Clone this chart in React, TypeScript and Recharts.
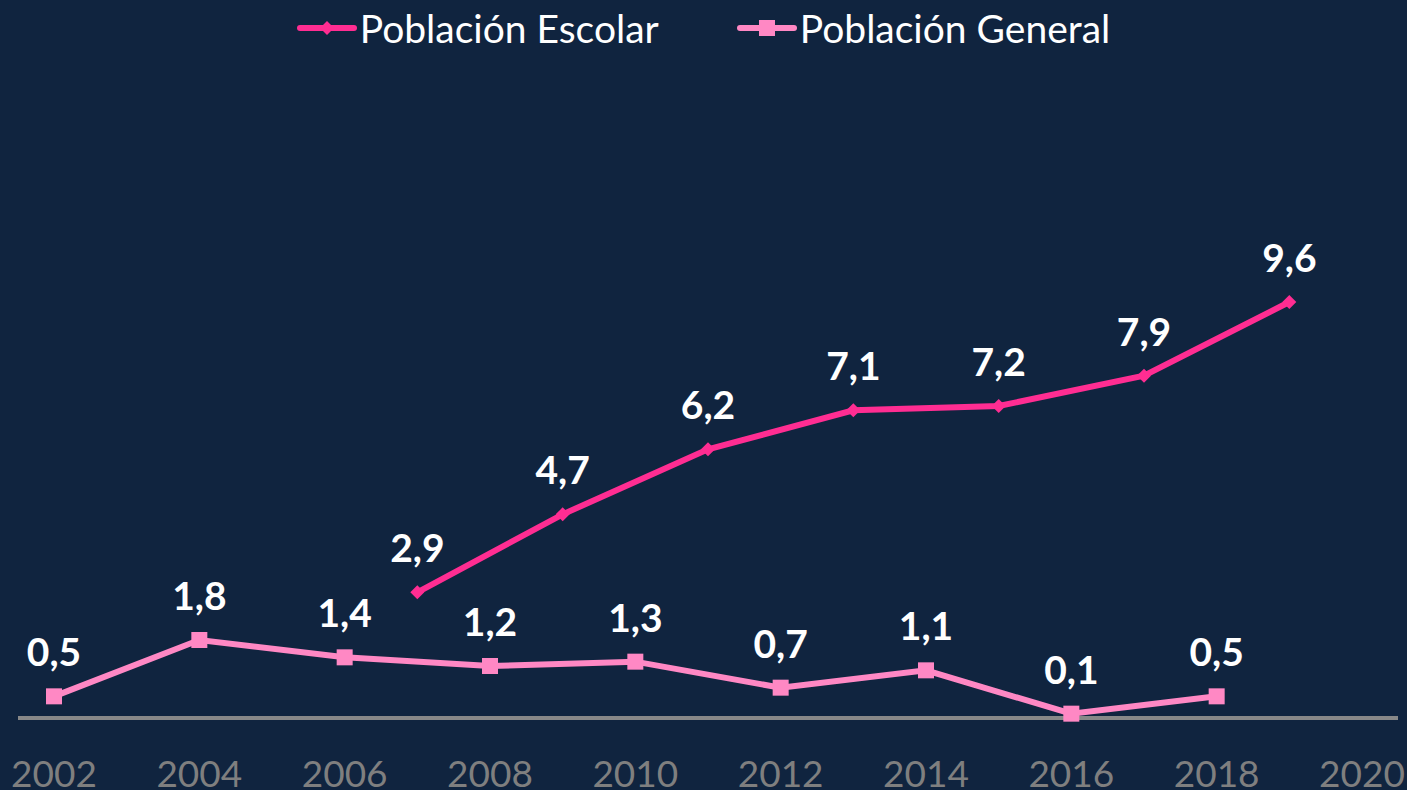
import React from 'react';
import { LineChart, Line, XAxis, YAxis, Legend, LabelList } from 'recharts';

const years = ['2002','2003','2004','2005','2006','2007','2008','2009','2010','2011','2012','2013','2014','2015','2016','2017','2018','2019','2020'];
const escolar: (number | null)[] = [null, null, null, null, null, 2.9, null, 4.7, null, 6.2, null, 7.1, null, 7.2, null, 7.9, null, 9.6, null];
const general: (number | null)[] = [0.5, null, 1.8, null, 1.4, null, 1.2, null, 1.3, null, 0.7, null, 1.1, null, 0.1, null, 0.5, null, null];
const seriesNames = ['Población Escolar', 'Población General'];

const data = years.map((y, i) => ({ year: y, escolar: escolar[i], general: general[i] }));

const BG = '#10243f';
const C1 = '#ff2d92';
const C2 = '#ff88c4';
const FONT = 'Lato, "Open Sans", sans-serif';

const fmt = (v: any) => (v == null ? '' : String(v).replace('.', ','));

const Diamond = (props: any) => {
  const { cx, cy, value, index } = props;
  if (value == null || cx == null) return <g key={index} />;
  const r = 7;
  return <polygon key={index} points={`${cx},${cy - r} ${cx + r},${cy} ${cx},${cy + r} ${cx - r},${cy}`} fill={C1} />;
};
const Square = (props: any) => {
  const { cx, cy, value, index } = props;
  if (value == null || cx == null) return <g key={index} />;
  const s = 16;
  return <rect key={index} x={cx - s / 2} y={cy - s / 2} width={s} height={s} fill={C2} />;
};

const renderLegend = () => (
  <div style={{ height: 198, width: 1407, display: 'flex', justifyContent: 'center', alignItems: 'flex-start', fontFamily: FONT }}>
    {seriesNames.map((n, i) => (
      <div key={n} style={{ display: 'flex', alignItems: 'center', marginLeft: i === 0 ? 0 : 78, height: 56 }}>
        <svg width={60} height={20} style={{ marginRight: 3 }}>
          <line x1={3} y1={10} x2={57} y2={10} stroke={i === 0 ? C1 : C2} strokeWidth={6} strokeLinecap="round" />
          {i === 0 ? (
            <polygon points="30,3 37,10 30,17 23,10" fill={C1} />
          ) : (
            <rect x={22} y={2} width={16} height={16} fill={C2} />
          )}
        </svg>
        <span style={{ color: '#ffffff', fontSize: 39, lineHeight: '56px' }}>{n}</span>
      </div>
    ))}
  </div>
);

export default function App() {
  return (
    <div style={{ position: 'absolute', left: 0, top: 0, width: 1407, height: 790, background: BG, overflow: 'hidden' }}>
      <LineChart width={1407} height={800} data={data} margin={{ top: 0, right: 9, bottom: 0, left: 18 }}>
        <Legend verticalAlign="top" align="center" content={renderLegend} wrapperStyle={{ top: 0, left: 0, width: 1407 }} />
        <XAxis
          dataKey="year"
          interval={1}
          padding={{ left: 36, right: 36 }}
          axisLine={{ stroke: '#888888', strokeWidth: 4 }}
          tickLine={false}
          tickSize={0}
          tickMargin={43}
          height={82}
          tick={{ fill: '#7f7f7f', fontSize: 37, fontFamily: FONT }}
        />
        <YAxis hide domain={[0, 12]} />
        <Line
          dataKey="general"
          stroke={C2}
          strokeWidth={6}
          connectNulls
          dot={<Square />}
          activeDot={false}
          isAnimationActive={false}
        >
          <LabelList dataKey="general" position="top" offset={30} formatter={fmt} fill="#ffffff" style={{ fontSize: 39, fontWeight: 700, fontFamily: FONT }} />
        </Line>
        <Line
          dataKey="escolar"
          stroke={C1}
          strokeWidth={6}
          connectNulls
          dot={<Diamond />}
          activeDot={false}
          isAnimationActive={false}
        >
          <LabelList dataKey="escolar" position="top" offset={30} formatter={fmt} fill="#ffffff" style={{ fontSize: 39, fontWeight: 700, fontFamily: FONT }} />
        </Line>
      </LineChart>
    </div>
  );
}
